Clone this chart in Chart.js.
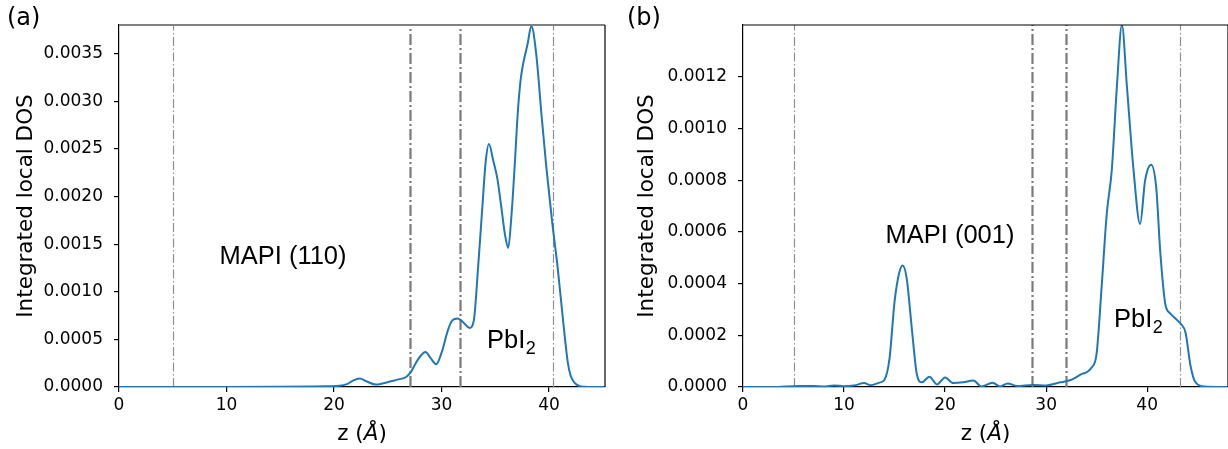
<!DOCTYPE html>
<html>
<head>
<meta charset="utf-8">
<script src="https://cdn.jsdelivr.net/npm/chart.js@4.4.0/dist/chart.umd.min.js"></script>
<style>
  html, body { margin: 0; padding: 0; background: #fff; overflow: hidden; }
  #wrap { position: relative; width: 1228px; height: 449px; overflow: hidden; }
  #c1 { position: absolute; left: 0; top: 0; }
  #c2 { position: absolute; left: 620px; top: 0; }
</style>
</head>
<body>
<div id="wrap">
  <canvas id="c1" width="615" height="449"></canvas>
  <canvas id="c2" width="610" height="449"></canvas>
</div>
<script>
// panel (a): MAPI (110) / PbI2
const zLeft = [0, 5, 10, 15, 18, 19.5, 20.5, 21.2, 21.8, 22.4, 23.0, 23.9, 24.6, 25.3, 26.0, 26.7, 27.1, 27.6, 28.0, 28.5,
  29.0, 29.5, 30.0, 30.6, 31.0, 31.5, 32.0, 32.6, 33.0, 33.4, 33.8, 34.1, 34.4, 34.8, 35.2, 35.6, 35.9, 36.2, 36.5, 36.8,
  37.1, 37.35, 37.6, 38.0, 38.35, 38.8, 39.3, 39.75, 40.3, 40.8, 41.3, 41.75, 42.0, 42.4, 42.8, 43.3, 44, 45.2];
const dosLeft = [0, 0, 0, 0.000002, 0.000005, 0.000008, 0.000012, 0.00003, 0.00007, 0.000088, 0.00006, 0.000025, 0.00004,
  0.00006, 0.00008, 0.000105, 0.00015, 0.00025, 0.00032, 0.000367, 0.0003, 0.00024, 0.00036, 0.0006, 0.0007, 0.00072,
  0.00068, 0.00062, 0.0007, 0.00126, 0.0019, 0.00236, 0.00255, 0.00238, 0.00218, 0.00185, 0.0016, 0.00146, 0.0018,
  0.00232, 0.0029, 0.00322, 0.0034, 0.0036, 0.00379, 0.0035, 0.00285, 0.0023, 0.00172, 0.00125, 0.0007, 0.00025,
  0.00012, 0.00004, 0.00001, 0.000002, 0, 0];

// panel (b): MAPI (001) / PbI2
const zRight = [0, 3, 5.5, 7, 8, 9, 10, 11, 12, 12.6, 13.5, 14.0, 14.5, 15.0, 15.45, 15.8, 16.2, 16.7, 17.2, 17.7, 18.45,
  19.2, 20.0, 20.8, 21.8, 22.8, 23.6, 24.7, 25.45, 26.2, 27.1, 28.7, 30.0, 31.4, 32.5, 33.4, 34.5, 35.0, 35.5, 36.0, 36.5,
  37.0, 37.5, 38.0, 38.65, 39.3, 39.8, 40.4, 40.9, 41.3, 41.8, 42.3, 43.3, 43.8, 44.3, 44.75, 45.6, 48];
const dosRight = [0, 0, 0.000004, 0.000004, 0.000002, 0.000006, 0.000003, 0.000006, 0.000015, 0.000007, 0.000017,
  0.000028, 0.00011, 0.00033, 0.00044, 0.00047, 0.00042, 0.00023, 0.00005, 0.000018, 0.00004, 0.00001, 0.000037,
  0.000015, 0.000018, 0.000025, 0.000002, 0.000016, 0.000002, 0.000014, 0.000004, 0.000008, 0.000006, 0.000018,
  0.000028, 0.000048, 0.000075, 0.00013, 0.00039, 0.00067, 0.00084, 0.00116, 0.0014, 0.00116, 0.00084, 0.00063,
  0.0008, 0.00086, 0.00077, 0.00052, 0.00032, 0.000284, 0.000245, 0.00021, 0.00008, 0.00002, 0.000002, 0];

const xTicks = [0, 10, 20, 30, 40];
const yTicksLeft = [0, 0.0005, 0.001, 0.0015, 0.002, 0.0025, 0.003, 0.0035];
const yTicksRight = [0, 0.0002, 0.0004, 0.0006, 0.0008, 0.001, 0.0012];

// interface positions (dash-dot lines), thick = inner interfaces
const edgesLeft = [5, 27.05, 31.7, 40.35];
const edgesRight = [5, 28.65, 32.0, 43.2];
const edgeThick = [false, true, true, false];

const panelPlugin = {
  id: 'panel',
  beforeDatasetsDraw(chart, args, o) {
    const {ctx, chartArea: a, scales: {x}} = chart;
    ctx.save();
    ctx.beginPath();
    ctx.rect(a.left, a.top, a.right - a.left, a.bottom - a.top);
    ctx.clip();
    o.edges.forEach((z, i) => {
      const thick = edgeThick[i];
      const px = Math.round(x.getPixelForValue(z)) + 0.5;
      ctx.lineWidth = thick ? 2.2 : 1.2;
      ctx.strokeStyle = thick ? '#7a7a7a' : '#8f8f8f';
      ctx.setLineDash(thick ? [11, 3, 2, 3] : [9, 2.5, 1.5, 2.5]);
      ctx.beginPath();
      ctx.moveTo(px, a.bottom);
      ctx.lineTo(px, a.top);
      ctx.stroke();
    });
    ctx.restore();
  },
  afterDraw(chart, args, o) {
    const {ctx, chartArea: a} = chart;
    ctx.save();
    // top + right frame
    ctx.lineWidth = o.topWidth;
    ctx.strokeStyle = o.topColor;
    ctx.beginPath();
    ctx.moveTo(a.left, a.top);
    ctx.lineTo(a.right, a.top);
    ctx.stroke();
    ctx.lineWidth = 1.2;
    ctx.strokeStyle = '#000';
    ctx.beginPath();
    ctx.moveTo(a.right, a.top);
    ctx.lineTo(a.right, a.bottom);
    ctx.stroke();

    ctx.fillStyle = '#000';
    // panel letter
    ctx.font = '24px "DejaVu Sans"';
    ctx.textAlign = 'left';
    ctx.textBaseline = 'middle';
    ctx.fillText(o.letter, 7, 19);

    // material label
    ctx.font = '25.5px "Liberation Sans"';
    ctx.textAlign = 'center';
    ctx.fillText(o.mapi, o.mapiX, o.mapiY);

    // PbI2 with subscript
    ctx.textAlign = 'left';
    ctx.textBaseline = 'alphabetic';
    ctx.fillText('PbI', o.pbX, o.pbY);
    const w = ctx.measureText('PbI').width;
    ctx.font = '18px "Liberation Sans"';
    ctx.fillText('2', o.pbX + w + 0.5, o.pbY + 6);

    // x title: z (Å) with italic Å
    ctx.font = '21.5px "DejaVu Sans"';
    const p1 = 'z (', p3 = ')';
    const w1 = ctx.measureText(p1).width, w3 = ctx.measureText(p3).width;
    ctx.font = 'italic 21.5px "DejaVu Sans"';
    const w2 = ctx.measureText('Å').width;
    let sx = (a.left + a.right) / 2 - (w1 + w2 + w3) / 2;
    const by = 440;
    ctx.font = '21.5px "DejaVu Sans"';
    ctx.fillText(p1, sx, by);
    ctx.font = 'italic 21.5px "DejaVu Sans"';
    ctx.fillText('Å', sx + w1, by);
    ctx.font = '21.5px "DejaVu Sans"';
    ctx.fillText(p3, sx + w1 + w2, by);
    ctx.restore();
  }
};

function makeChart(id, zs, vals, xMax, yMax, yTicks, yWidth, padRight, titlePad, panel) {
  const ctx = document.getElementById(id).getContext('2d');
  return new Chart(ctx, {
    type: 'line',
    data: {
      datasets: [{
        data: zs.map((z, i) => ({x: z, y: vals[i]})),
        borderColor: '#1f77b4',
        borderWidth: 2,
        pointRadius: 0,
        fill: false,
        cubicInterpolationMode: 'monotone'
      }]
    },
    options: {
      responsive: false,
      animation: false,
      events: [],
      layout: {padding: {top: 25, right: padRight, left: 0, bottom: 0}},
      plugins: {
        legend: {display: false},
        tooltip: {enabled: false},
        panel: panel
      },
      scales: {
        x: {
          type: 'linear',
          min: 0,
          max: xMax,
          afterBuildTicks: s => { s.ticks = xTicks.map(v => ({value: v})); },
          afterFit: s => { s.height = 62; },
          ticks: {
            color: '#000',
            font: {family: 'DejaVu Sans', size: 17},
            padding: 3,
            maxRotation: 0
          },
          grid: {display: true, drawOnChartArea: false, drawTicks: true, tickLength: 5, tickColor: '#000', lineWidth: 1.2},
          border: {display: true, color: '#000', width: 1.2}
        },
        y: {
          type: 'linear',
          min: 0,
          max: yMax,
          afterBuildTicks: s => { s.ticks = yTicks.map(v => ({value: v})); },
          afterFit: s => { s.width = yWidth; },
          ticks: {
            color: '#000',
            font: {family: 'DejaVu Sans', size: 17},
            padding: 11,
            callback: v => v.toFixed(4)
          },
          title: {
            display: true,
            text: 'Integrated local DOS',
            color: '#000',
            font: {family: 'DejaVu Sans', size: 21.5},
            padding: {top: titlePad, bottom: 0}
          },
          grid: {display: true, drawOnChartArea: false, drawTicks: true, tickLength: 5, tickColor: '#000', lineWidth: 1.2},
          border: {display: true, color: '#000', width: 1.2}
        }
      }
    },
    plugins: [panelPlugin]
  });
}

makeChart('c1', zLeft, dosLeft, 45.2, 0.0038, yTicksLeft, 119, 10, 14, {
  edges: edgesLeft, letter: '(a)', mapi: 'MAPI (110)', mapiX: 283, mapiY: 257,
  pbX: 487, pbY: 348, topColor: '#808080', topWidth: 2
});
makeChart('c2', zRight, dosRight, 48, 0.0014, yTicksRight, 123, 2, 15, {
  edges: edgesRight, letter: '(b)', mapi: 'MAPI (001)', mapiX: 330, mapiY: 236,
  pbX: 494, pbY: 327, topColor: '#000', topWidth: 1.2
});
</script>
</body>
</html>
